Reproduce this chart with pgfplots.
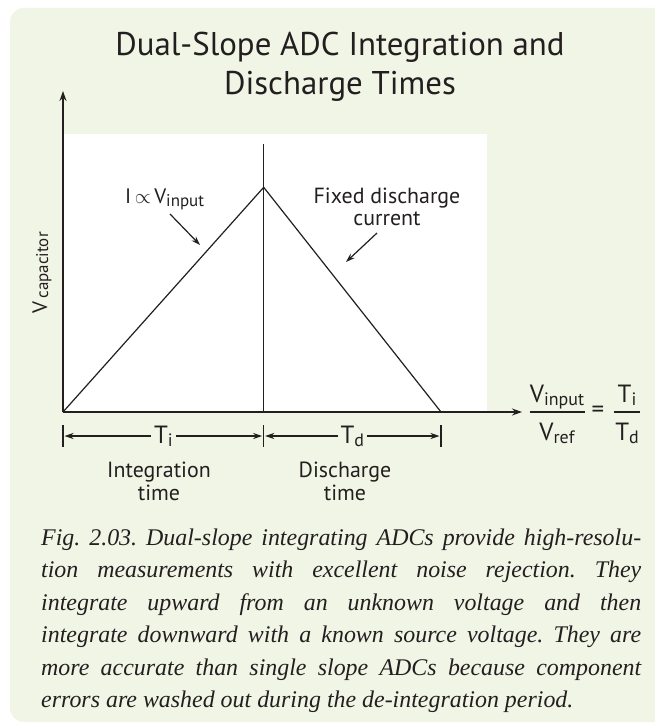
\documentclass[border=0pt]{standalone}
\usepackage{pgfplots}
\pgfplotsset{compat=1.18}
\usepackage{fontspec}
\setmainfont{PT Sans}
\newfontfamily\capfont{Liberation Serif}
\usetikzlibrary{arrows.meta}
\definecolor{ink}{HTML}{231F20}
\definecolor{panel}{RGB}{241,245,229}

% smaller, lowered subscript text
\newcommand\sub[2][16]{\raisebox{-3bp}{\fontsize{#1}{#1}\selectfont #2}}
\newcommand\fs[1]{\fontsize{#1}{#1}\selectfont}
\newcommand\capline[1]{\makebox[600bp][s]{#1}}
\frenchspacing

\begin{document}
\begin{tikzpicture}[x=1bp,y=-1bp,>={Stealth[length=9bp,width=6bp]}]
\fill[white] (0,0) rectangle (655,725);
\useasboundingbox (0,0) rectangle (655,725);
\begin{scope}
  \clip (0,0) rectangle (655,725);
  \fill[panel, rounded corners=14bp] (10,8) rectangle (690,722);
\end{scope}
\fill[white] (63,134) rectangle (487,412);

% title
\node[anchor=base, text=ink, font=\fs{33}] at (340,56) {Dual-Slope ADC Integration and};
\node[anchor=base, text=ink, font=\fs{33}] at (340,95) {Discharge Times};

\begin{axis}[
  at={(63bp,-412bp)}, anchor=south west,
  scale only axis, width=459bp, height=321bp,
  xmin=0, xmax=459, ymin=0, ymax=321,
  axis lines=left, ticks=none, clip=false,
  axis line style={ink, line width=1.4bp, -{Stealth[length=10bp,width=7bp]}},
]
% charge ramp and discharge ramp (pixels from the origin)
\addplot[ink, line width=1.2bp] coordinates {(0,0) (200.7,224.7) (378,0)};
% end of integration marker
\addplot[ink, line width=1.4bp] coordinates {(200.7,0) (200.7,268)};
\end{axis}

% y label
\node[rotate=90, text=ink, font=\fs{21}] at (42,273) {V\,\raisebox{-1bp}{\fs{17}capacitor}};

% slope annotations
\node[anchor=base west, text=ink, font=\fs{21}, inner sep=0] at (125,203) {I\,$\propto$\,V\sub[17]{input}};
\draw[ink, line width=1.2bp, ->] (170,214) -- (200,245);
\node[anchor=base, text=ink, font=\fs{22}] at (387,203) {Fixed discharge};
\node[anchor=base, text=ink, font=\fs{22}] at (387,225) {current};
\draw[ink, line width=1.2bp, ->] (377,233) -- (346,262);

% dimension lines
\draw[ink, line width=1.2bp] (63,425) -- (63,447) (263.7,425) -- (263.7,447) (441,425) -- (441,447);
\draw[ink, line width=1.2bp, <->] (64.5,436) -- (262.2,436)
  node[midway, fill=panel, inner sep=3bp, text=ink, font=\fs{25}] {T\sub[18]{i}};
\draw[ink, line width=1.2bp, <->] (265.2,436) -- (439.5,436)
  node[midway, fill=panel, inner sep=3bp, text=ink, font=\fs{25}] {T\sub[18]{d}};
\node[anchor=base, text=ink, font=\fs{22}] at (159,477) {Integration};
\node[anchor=base, text=ink, font=\fs{22}] at (159,500) {time};
\node[anchor=base, text=ink, font=\fs{22}] at (345,477) {Discharge};
\node[anchor=base, text=ink, font=\fs{22}] at (345,500) {time};

% ratio
\node[anchor=base, text=ink, font=\fs{25}] at (557,402) {V\sub[18]{input}};
\draw[ink, line width=1.4bp] (530,412) -- (585,412);
\node[anchor=base, text=ink, font=\fs{25}] at (557,440) {V\sub[18]{ref}};
\node[text=ink, font=\fs{25}] at (598,412) {=};
\node[anchor=base, text=ink, font=\fs{25}] at (627,402) {T\sub[18]{i}};
\draw[ink, line width=1.4bp] (614,412) -- (640,412);
\node[anchor=base, text=ink, font=\fs{25}] at (627,440) {T\sub[18]{d}};

% caption
\begin{scope}[every node/.style={anchor=base west, inner sep=0, text=ink, font=\capfont\itshape\fs{24}}]
\node at (41,545) {\capline{Fig. 2.03. Dual-slope integrating ADCs provide high-resolu-}};
\node at (41,577.5) {\capline{tion measurements with excellent noise rejection. They}};
\node at (41,610) {\capline{integrate upward from an unknown voltage and then}};
\node at (41,642.5) {\capline{integrate downward with a known source voltage. They are}};
\node at (41,675) {\capline{more accurate than single slope ADCs because component}};
\node at (41,707.5) {errors are washed out during the de-integration period.};
\end{scope}
\end{tikzpicture}
\end{document}
